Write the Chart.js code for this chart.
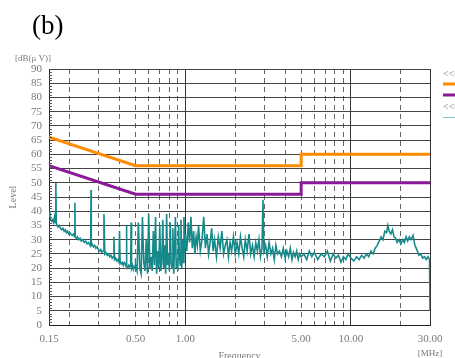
<!DOCTYPE html>
<html>
<head>
<meta charset="utf-8">
<script src="https://cdn.jsdelivr.net/npm/chart.js@4/dist/chart.umd.min.js"></script>
<style>
  html, body { margin: 0; padding: 0; background: #ffffff; }
  #wrap { width: 455px; height: 358px; position: relative; }
</style>
</head>
<body>
<div id="wrap"><canvas id="c" width="455" height="358"></canvas></div>
<script>
// ---------- data ----------
const freqMHz = [
  0.150,0.152,0.154,0.156,0.158,0.160,0.162,0.164,0.165,0.166,0.168,0.170,0.173,0.176,0.179,0.182,0.185,0.188,0.191,0.194,0.197,0.200,
  0.203,0.207,0.211,0.214,0.215,0.216,0.219,0.223,0.227,0.231,0.235,0.240,0.245,0.250,0.255,0.260,0.265,0.268,0.269,0.270,0.273,0.278,0.283,0.288,0.293,0.298,
  0.303,0.308,0.313,0.318,0.322,0.326,0.331,0.337,0.343,0.349,0.355,0.361,0.367,0.370,0.373,0.379,0.385,0.391,0.397,0.400,0.403,0.409,0.415,0.421,0.427,0.433,0.438,0.440,0.443,0.449,0.455,0.461,0.467,0.470,0.473,0.479,0.485,0.491,0.497,
  0.50,0.51,0.52,0.53,0.54,0.55,0.56,0.57,0.58,0.59,0.60,0.61,0.62,0.63,0.64,0.65,0.66,0.67,0.68,0.69,0.70,0.71,0.72,0.73,0.74,0.75,0.76,0.77,0.78,0.79,0.80,0.81,0.82,0.83,0.84,0.85,0.86,0.87,0.88,0.89,0.90,0.91,0.92,0.93,0.94,0.95,0.96,0.97,0.98,0.99,
  1.00,1.02,1.04,1.06,1.08,1.10,1.12,1.14,1.16,1.18,1.20,1.23,1.26,1.29,1.32,1.35,1.38,1.41,1.44,1.47,1.50,1.54,1.58,1.62,1.66,1.70,1.74,1.78,1.82,1.86,1.90,1.95,2.00,
  2.05,2.10,2.15,2.20,2.25,2.30,2.36,2.42,2.48,2.54,2.60,2.66,2.72,2.78,2.84,2.90,2.94,2.98,3.05,3.12,3.20,3.28,3.36,3.44,3.52,3.60,3.70,3.80,3.90,4.00,4.10,4.20,4.30,4.40,4.50,4.60,4.70,4.80,4.90,5.00,
  5.2,5.4,5.6,5.8,6.0,6.3,6.6,6.9,7.2,7.5,7.8,8.1,8.4,8.7,9.0,9.3,9.6,10.0,10.4,10.8,11.2,11.6,12.0,12.4,12.8,13.2,13.6,14.0,
  14.4,14.8,15.2,15.6,16.0,16.4,16.7,17.0,17.4,17.8,18.2,18.6,19.0,19.5,20.0,20.5,21.0,21.5,22.0,22.5,23.0,23.7,24.3,25.0,25.7,26.4,27.1,27.8,28.5,29.2,29.8,30.0
];
const levelDBuV = [
  40,38,37,36.5,37,36,38,36,50,36,35,34.5,35,34,33.5,34,33,33.5,32.5,33,32,32.5,
  32,31.5,32,31,43,31,30.5,31,30,30.5,29.5,30,29,29.5,28.5,29,28,28.5,47.5,28,28.5,27.5,28,27,27.5,26.5,
  26,26.5,25.5,26,39,25,25.5,24.5,25,24,24.5,23.5,24,31,23,23.5,22.5,23,22,33,22.5,21.5,22,21,22,21.5,20.5,35,21,20,21,20.5,21,36,20,21,19.5,20.5,20,
  21,19,36,20,18,38,22,19,30,18,39,20,24,19,33,21,38,18,26,20,35,19,22,37,20,28,18,39,21,25,19,36,22,20,34,18,27,38,20,23,19,35,24,21,37,20,30,22,38,25,
  32,26,36,29,38,27,33,25,31,28,35,26,30,38,27,32,25,29,34,26,30,24,31,27,33,25,28,30,24,29,26,31,25,
  29,25,31,27,24,30,26,32,25,28,24,29,26,30,24,27,44,26,28,24,29,25,27,23,28,25,26,24,27,23.5,26,24,27,23,25.5,24,26,23,25,24,
  25,23,26,24,25.5,23,25,24,26,22.5,25,23.5,24.5,22,24,23,25,23.5,22.5,24,23,24.5,23.5,25,24,26,25,27,
  28,29.5,31,30,33,32.5,35,33,32,33.5,31,30.5,29,30,28.5,30,29,31,29.5,31,30,31.5,28,26.5,24.5,25,23.5,24,23,24,23,5
];
const limitFreqMHz = [0.15, 0.5, 5, 5, 30];
const qpLimitDBuV  = [66, 56, 56, 60, 60];
const avLimitDBuV  = [56, 46, 46, 50, 50];

const xTickValues  = [0.15,0.2,0.3,0.4,0.5,0.6,0.7,0.8,0.9,1,2,3,4,5,6,7,8,9,10,20,30];
const xLabelValues = [0.15,0.5,1,5,10,30];
const xSolidValues = [1,10,30];
const yTickValues  = [0,5,10,15,20,25,30,35,40,45,50,55,60,65,70,75,80,85,90];

const seriesNames = ['QP Limit', 'AV Limit', 'Level'];
const legendHeaders = ['<<CISPR22 Class B>>', '<<Conducted Emission>>'];

// ---------- build ----------
const toXY = (xs, ys) => xs.map((x, i) => ({ x: x, y: ys[i] }));
const SERIF = "'Liberation Serif', 'DejaVu Serif', serif";
const GRAY = '#7a7a7a';

const decorPlugin = {
  id: 'decor',
  afterDraw(chart) {
    const ctx = chart.ctx;
    const ys = chart.scales.y;
    const ca = chart.chartArea;
    ctx.save();
    // minor ticks on the y axis
    ctx.strokeStyle = '#555';
    ctx.lineWidth = 1;
    for (let v = 0; v <= 90; v++) {
      if (v % 5 === 0) continue;
      const py = Math.round(ys.getPixelForValue(v)) + 0.5;
      ctx.beginPath();
      ctx.moveTo(ca.left, py);
      ctx.lineTo(ca.left + 3, py);
      ctx.stroke();
    }
    // panel label
    ctx.fillStyle = '#000';
    ctx.font = "27px " + SERIF;
    ctx.textAlign = 'left';
    ctx.textBaseline = 'middle';
    ctx.fillText('(b)', 32, 27);
    // unit labels
    ctx.fillStyle = GRAY;
    ctx.font = "9px " + SERIF;
    ctx.fillText('[dB(\u03BC V)]', 15, 59);
    ctx.textAlign = 'center';
    ctx.fillText('[MHz]', 430, 354);
    // legend (runs past the canvas edge like the reference)
    const lx = ca.right + 13;
    ctx.textAlign = 'left';
    ctx.font = "10px " + SERIF;
    ctx.fillText(legendHeaders[0], lx, 74);
    const ds = chart.data.datasets;
    const rows = [[ds[0], 84], [ds[1], 95]];
    rows.forEach(([d, y]) => {
      ctx.strokeStyle = d.borderColor;
      ctx.lineWidth = d.borderWidth;
      ctx.beginPath(); ctx.moveTo(lx, y); ctx.lineTo(lx + 20, y); ctx.stroke();
    });
    ctx.fillText(legendHeaders[1], lx, 107);
    ctx.strokeStyle = '#7cc6c6';
    ctx.lineWidth = 1;
    ctx.beginPath(); ctx.moveTo(lx, 117.5); ctx.lineTo(lx + 20, 117.5); ctx.stroke();
    ctx.restore();
  }
};

new Chart(document.getElementById('c'), {
  type: 'line',
  data: {
    datasets: [
      { label: seriesNames[0], data: toXY(limitFreqMHz, qpLimitDBuV), borderColor: '#ff8c00', borderWidth: 3, pointRadius: 0, tension: 0, order: 2 },
      { label: seriesNames[1], data: toXY(limitFreqMHz, avLimitDBuV), borderColor: '#8b1a96', borderWidth: 3, pointRadius: 0, tension: 0, order: 3 },
      { label: seriesNames[2], data: toXY(freqMHz, levelDBuV), borderColor: '#168a8a', borderWidth: 1.6, pointRadius: 0, tension: 0, order: 1 }
    ]
  },
  options: {
    responsive: false,
    animation: false,
    layout: { padding: { left: 0, top: 69, right: 25, bottom: 0 } },
    plugins: { legend: { display: false }, tooltip: { enabled: false }, title: { display: false } },
    scales: {
      x: {
        type: 'logarithmic',
        min: 0.15, max: 30,
        afterBuildTicks: (s) => { s.ticks = xTickValues.map(v => ({ value: v })); },
        afterFit: (s) => { s.height = 33; },
        ticks: {
          autoSkip: false, maxRotation: 0, minRotation: 0, padding: 8,
          color: GRAY, font: { family: SERIF, size: 11 },
          callback: (v) => xLabelValues.includes(v) ? v.toFixed(2) : ''
        },
        grid: {
          drawTicks: false,
          lineWidth: 1,
          color: (c) => (c.tick && xSolidValues.includes(c.tick.value)) ? '#333' : '#666'
        },
        border: {
          color: '#222', width: 1,
          dash: (c) => (c.tick && !xSolidValues.includes(c.tick.value) && c.tick.value !== 0.15) ? [5, 4] : []
        },
        title: { display: true, text: 'Frequency', color: GRAY, font: { family: SERIF, size: 10 }, padding: { top: 0, bottom: -4 } }
      },
      y: {
        type: 'linear',
        min: 0, max: 90,
        afterBuildTicks: (s) => { s.ticks = yTickValues.map(v => ({ value: v })); },
        afterFit: (s) => { s.width = 49; },
        ticks: { autoSkip: false, padding: 7, color: GRAY, font: { family: SERIF, size: 11 } },
        grid: { drawTicks: false, color: '#444', lineWidth: 1 },
        border: { color: '#222', width: 1 },
        title: { display: true, text: 'Level', color: GRAY, font: { family: SERIF, size: 10 }, padding: { top: 7, bottom: 0 } }
      }
    }
  },
  plugins: [decorPlugin]
});
</script>
</body>
</html>
